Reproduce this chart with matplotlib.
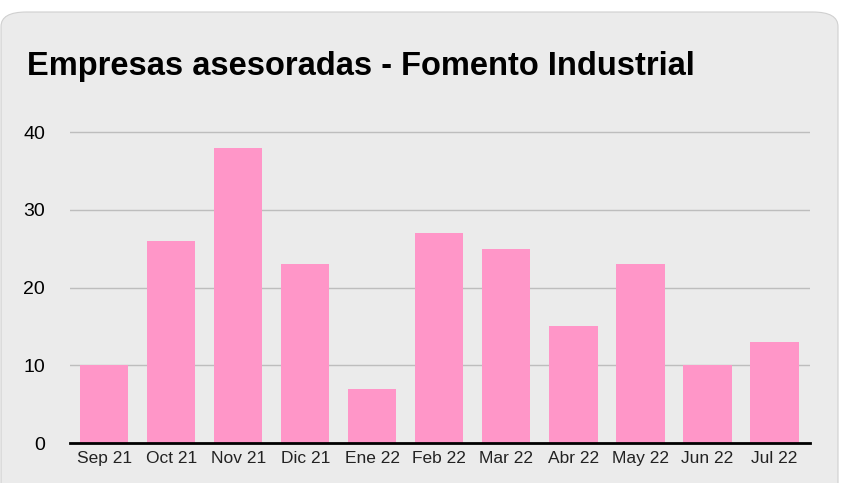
import matplotlib
matplotlib.use("Agg")
import matplotlib.pyplot as plt
from matplotlib.patches import FancyBboxPatch

# ---------------------------------------
# Data
# ---------------------------------------

months = ["Sep 21", "Oct 21", "Nov 21", "Dic 21", "Ene 22", "Feb 22",
          "Mar 22", "Abr 22", "May 22", "Jun 22", "Jul 22"]
empresas = [10, 26, 38, 23, 7, 27, 25, 15, 23, 10, 13]
y_ticks = [0, 10, 20, 30, 40]

TITLE = "Empresas asesoradas - Fomento Industrial"

PANEL = "#ebebeb"
BAR = "#ff96c8"
GRID = "#bdbdbd"
FONT = ["Liberation Sans", "DejaVu Sans"]

W, H = 844, 483

fig = plt.figure(figsize=(W / 100, H / 100), dpi=100)
fig.patch.set_facecolor("white")

# rounded grey card behind the chart
card = FancyBboxPatch((1 / W, -20 / H), 837 / W, (H - 10 + 20) / H - 2 / H,
                      boxstyle="round,pad=0,rounding_size=0.03",
                      transform=fig.transFigure, facecolor=PANEL,
                      edgecolor="#d0d0d0", linewidth=0.8, zorder=-5)
fig.patches.append(card)

# axes placed in pixel terms: x 70..810, y(0)=443, y(40)=132
left, right = 70 / W, 810 / W
bottom = 1 - 443 / H
top_px = 443 - (443 - 132) * 42 / 40
ax = fig.add_axes([left, bottom, right - left, (443 - top_px) / H])
ax.set_facecolor("none")
ax.set_zorder(2)

x = range(len(months))
ax.bar(x, empresas, width=0.72, color=BAR, zorder=2)

ax.set_xlim(-0.51, len(months) - 1 + 0.53)
ax.set_ylim(0, 42)
ax.set_yticks(y_ticks)
ax.set_xticks(list(x))
ax.set_xticklabels(months, fontsize=12.5, color="#222222", family=FONT)
ax.tick_params(axis="y", labelsize=14, length=0, pad=18, colors="black")
ax.tick_params(axis="x", length=0, pad=6)

for lbl in ax.get_yticklabels():
    lbl.set_family(FONT)

ax.grid(True, axis="y", color=GRID, linewidth=1.0, zorder=1)
ax.set_axisbelow(True)

for side in ["top", "right", "left"]:
    ax.spines[side].set_visible(False)
ax.spines["bottom"].set_color("black")
ax.spines["bottom"].set_linewidth(2.0)
ax.spines["bottom"].set_zorder(3)

fig.text(27 / W, 1 - 66 / H, TITLE, fontsize=23.5, fontweight="bold",
         va="center", ha="left", family=FONT, zorder=3)

fig.savefig("out.png", dpi=100, facecolor=fig.get_facecolor())
